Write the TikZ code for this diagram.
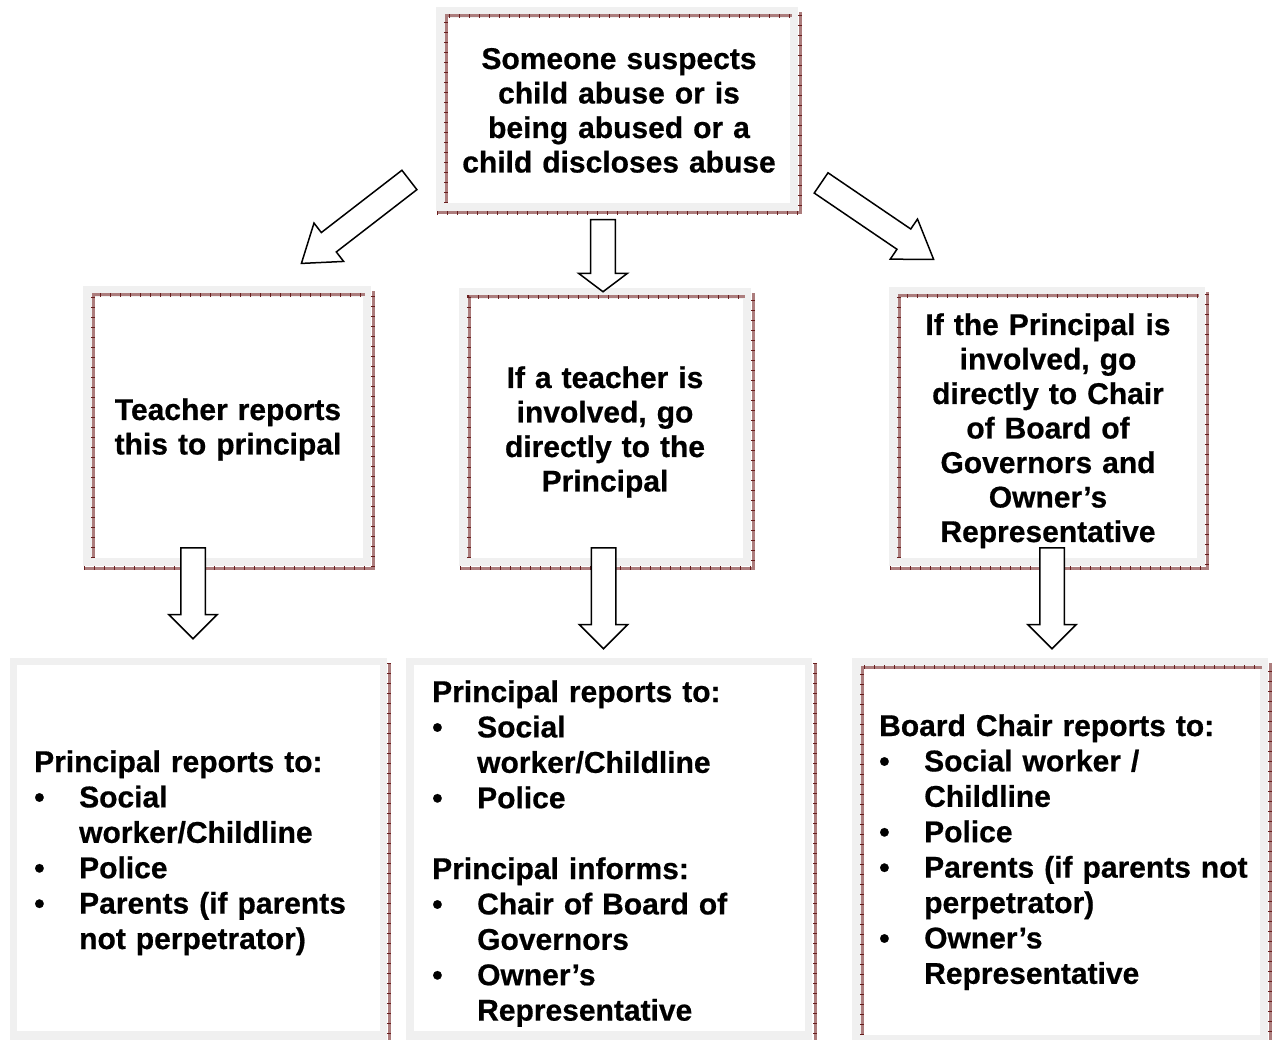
\documentclass[tikz,border=0pt]{standalone}
\usepackage{fontspec}
\setmainfont{Liberation Sans}[BoldFeatures={FakeBold=0.6}]
\usetikzlibrary{shapes.arrows}
\definecolor{greyband}{RGB}{240,240,240}
\definecolor{rosy}{RGB}{172,125,125}
\definecolor{darkrose}{RGB}{105,30,30}
\newcommand{\blt}{\makebox[45pt][l]{\textbullet}}
\newcommand{\ind}{\hspace*{45pt}}

\tikzset{
  rim/.style={draw=rosy,line width=3pt,
    postaction={draw=darkrose,line width=3.4pt,dash pattern=on 1pt off 9pt}},
  boxtext/.style={font=\bfseries\fontsize{30}{34.5}\selectfont,text width=400pt,
    align=center,anchor=base,inner sep=0pt},
  listtext/.style={font=\bfseries\fontsize{30}{35.4}\selectfont,text width=400pt,
    align=left,anchor=base west,inner sep=0pt},
  blockarrow/.style={single arrow,draw=black,fill=white,line width=1.5pt,
    inner xsep=0pt,inner ysep=11.5pt,single arrow head extend=12pt,anchor=tail}
}

\begin{document}
\begin{tikzpicture}[x=1pt,y=-1pt]
  \useasboundingbox[fill=white] (0,0) rectangle (1272,1040);
  % boxes with the rose rim
  \foreach \a/\b/\c/\d in {448/18/790/203, 95/297/363/558, 471/299/743/558,
      901/298/1197/558, 864/669/1260/1035}
  {
    \fill[greyband] (\a-12,\b-11) rectangle (\c+8,\d+8);
    \fill[white] (\a,\b) rectangle (\c,\d);
    \draw[rim] (\a-2,\d) -- (\a-2,\b-2) -- (\c+2,\b-2);
    \draw[rim] (\a-11,\d+10) -- (\c+10,\d+10) -- (\c+10,\b-6);
  }
  % plain boxes at the bottom
  \fill[greyband] (10,658) rectangle (387,1048);
  \fill[white] (17,665) rectangle (380,1031);
  \draw[rim] (389,663) -- (389,1048);
  \fill[greyband] (406,658) rectangle (812,1048);
  \fill[white] (414,665) rectangle (805,1031);
  \draw[rim] (815,663) -- (815,1048);

  \node[boxtext] (suspect) at (619,69) {Someone suspects\\child abuse or is\\being abused or a\\child discloses abuse};
  \node[boxtext] (teacher) at (228,420) {Teacher reports\\this to principal};
  \node[boxtext] (teachinv) at (605,388) {If a teacher is\\involved, go\\directly to the\\Principal};
  \node[boxtext] (princinv) at (1048,335) {If the Principal is\\involved, go\\directly to Chair\\of Board of\\Governors and\\Owner’s\\Representative};

  \node[listtext] (reportl) at (34,772) {Principal reports to:\\\blt Social\\\ind worker/Childline\\\blt Police\\\blt Parents (if parents\\\ind not perpetrator)};
  \node[listtext] (reportm) at (432,702) {Principal reports to:\\\blt Social\\\ind worker/Childline\\\blt Police\\[35.4pt]Principal informs:\\\blt Chair of Board of\\\ind Governors\\\blt Owner’s\\\ind Representative};
  \node[listtext] (reportr) at (879,736) {Board Chair reports to:\\\blt Social worker /\\\ind Childline\\\blt Police\\\blt Parents (if parents not\\\ind perpetrator)\\\blt Owner’s\\\ind Representative};

  % block arrows
  \node[blockarrow,rotate=217.7,minimum height=136.5pt,minimum width=47.6pt,single arrow tip angle=70] (toleft) at (410,179.5) {};
  \node[blockarrow,rotate=-90,minimum height=72pt,minimum width=49pt,single arrow tip angle=106] (tomid) at (603,219) {};
  \node[blockarrow,rotate=-34.2,minimum height=136pt,minimum width=46pt,single arrow tip angle=68] (toright) at (820.5,182.5) {};
  \node[blockarrow,rotate=-90,minimum height=91pt,minimum width=47pt,single arrow tip angle=90] (downl) at (193,547) {};
  \node[blockarrow,rotate=-90,minimum height=101pt,minimum width=47pt,single arrow tip angle=90] (downm) at (603.5,547) {};
  \node[blockarrow,rotate=-90,minimum height=101pt,minimum width=47pt,single arrow tip angle=90] (downr) at (1052,547) {};
\end{tikzpicture}
\end{document}
